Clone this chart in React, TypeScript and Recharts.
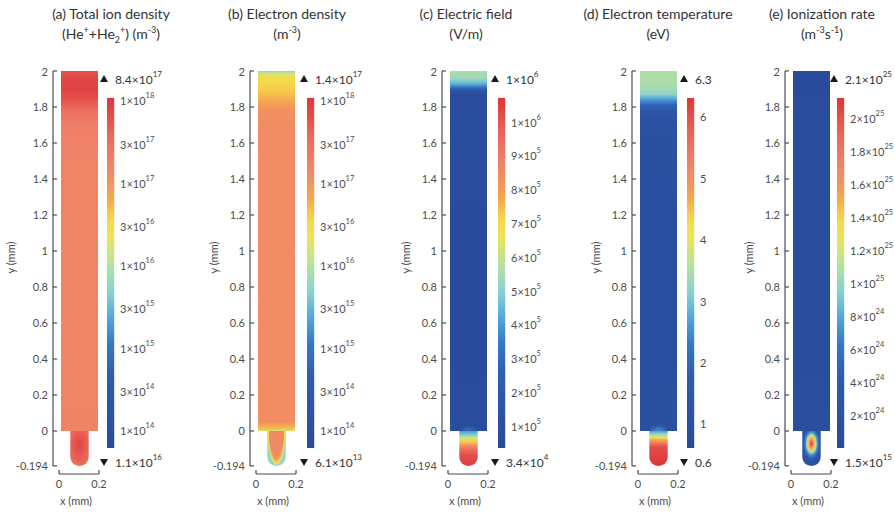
import React from 'react';
import { ComposedChart, Area, Bar, XAxis, YAxis, ReferenceLine } from 'recharts';

const FONT = 'Lato, "Open Sans", "DejaVu Sans", sans-serif';
const INK = '#4d4d4d';
const W = 895;
const H = 513;

// Channel cross-section in mm: the gap spans x 0.01–0.195 between y = 0 and 2,
// the capillary below it is a round-ended tube reaching y = -0.194.
const outlineX = [0.01, 0.0565, 0.0585, 0.0625, 0.0695, 0.0795, 0.0905, 0.1025, 0.1145, 0.1255, 0.1355, 0.1425, 0.1465, 0.1485, 0.195];
const tubeBottom: (number | null)[] = [null, -0.143, -0.158, -0.168, -0.179, -0.187, -0.192, -0.194, -0.192, -0.187, -0.179, -0.168, -0.158, -0.143, null];
const yTicks = [-0.194, 0, 0.2, 0.4, 0.6, 0.8, 1, 1.2, 1.4, 1.6, 1.8, 2];
const xTicks = [0, 0.2];
const xDomain = [-0.03, 0.2];
const yDomain = [-0.239, 2];

// rainbow colour table (normalised position -> colour)
const cmapPos = [0, 0.2, 0.3, 0.37, 0.44, 0.52, 0.6, 0.65, 0.71, 0.76, 0.82, 0.9, 1];
const cmapHex = ['#2a4a9a', '#2e5caf', '#3679c8', '#4fa6de', '#84cfd2', '#b6e0a2', '#e9e55a', '#f5d84a', '#f5aa4c', '#f39260', '#ef8068', '#ea6556', '#dc363c'];

// (a) total ion density along the gap, and inside the capillary (radial profile)
const ionY = [2.0, 1.96, 1.9, 1.84, 1.78, 1.7, 1.5, 1.0, 0.5, 0.2, 0.05, 0];
const ionV = [5.5e17, 7.5e17, 8.4e17, 6e17, 3e17, 1.9e17, 1.6e17, 1.5e17, 1.5e17, 1.55e17, 1.7e17, 1.5e17];
const ionTubeOff = [0, 0.5, 1];
const ionTubeV = [8e17, 5e17, 2.5e17];

// (b) electron density
const eleY = [2.0, 1.985, 1.97, 1.93, 1.88, 1.83, 1.78, 1.7, 1.0, 0.3, 0.05, 0.015, 0];
const eleV = [6e15, 1.5e16, 3e16, 3.5e16, 4.5e16, 7e16, 1.05e17, 1.25e17, 1.3e17, 1.3e17, 1.2e17, 5e16, 1.5e16];
const eleTubeOff = [0, 0.7, 0.82, 0.9, 0.96, 1];
const eleTubeV = [1.4e17, 1.3e17, 8e16, 3e16, 1.2e16, 6e15];

// (c) electric field
const fieldY = [2.0, 1.96, 1.935, 1.92, 1.905, 1.89, 1.87, 1.5, 1.0, 0.5, 0.1, 0];
const fieldV = [5.6e5, 5.3e5, 4.6e5, 3.9e5, 2.8e5, 1.4e5, 6e4, 5.5e4, 5e4, 5e4, 5.5e4, 6e4];
const fieldTubeOff = [0, 0.1, 0.2, 0.3, 0.42, 0.55, 0.7, 1];
const fieldTubeV = [4e5, 4.8e5, 6.2e5, 7.2e5, 8.4e5, 9.5e5, 1.02e6, 1.05e6];

// (d) electron temperature
const tempY = [2.0, 1.95, 1.9, 1.87, 1.85, 1.83, 1.81, 1.78, 1.74, 1.6, 1.0, 0.5, 0.1, 0];
const tempV = [3.5, 3.5, 3.4, 3.2, 2.8, 2.4, 1.9, 1.4, 1.1, 0.95, 0.9, 0.9, 0.95, 1.0];
const tempTubeOff = [0, 0.08, 0.18, 0.26, 0.35, 0.45, 1];
const tempTubeV = [2.6, 3.2, 4.0, 4.7, 5.4, 6.0, 6.3];

// (e) ionization rate
const rateY = [2.0, 1.9, 1.8, 1.5, 1.0, 0.5, 0.1, 0];
const rateV = [3e23, 3e23, 6e23, 8e23, 8e23, 8e23, 9e23, 1.2e24];
const rateTubeOff = [0, 0.15, 0.3, 0.45, 0.6, 0.8, 1];
const rateTubeV = [2.1e25, 1.8e25, 1.45e25, 1.1e25, 7e24, 3e24, 1.2e24];

// colour-bar ticks, ranges and [max, min] markers
const densityTicks = [1e14, 3e14, 1e15, 3e15, 1e16, 3e16, 1e17, 3e17, 1e18];
const fieldTicks = [1e5, 2e5, 3e5, 4e5, 5e5, 6e5, 7e5, 8e5, 9e5, 1e6];
const tempTicks = [1, 2, 3, 4, 5, 6];
const rateTicks = [2e24, 4e24, 6e24, 8e24, 1e25, 1.2e25, 1.4e25, 1.6e25, 1.8e25, 2e25];
const densityRange = [6.1e13, 1.07e18];
const fieldRange = [3.4e4, 1.07e6];
const tempRange = [0.6, 6.3];
const rateRange = [1.5e15, 2.12e25];
const ionExtremes = [8.4e17, 1.1e16];
const eleExtremes = [1.4e17, 6.1e13];
const fieldExtremes = [1e6, 3.4e4];
const tempExtremes = [6.3, 0.6];
const rateExtremes = [2.1e25, 1.5e15];

const hexRgb = (h: string) => [1, 3, 5].map((i) => parseInt(h.slice(i, i + 2), 16));

function cmap(t: number) {
  const u = Math.min(1, Math.max(0, t));
  let i = 0;
  while (i < cmapPos.length - 2 && u > cmapPos[i + 1]) i++;
  const f = (u - cmapPos[i]) / (cmapPos[i + 1] - cmapPos[i]);
  const a = hexRgb(cmapHex[i]);
  const b = hexRgb(cmapHex[i + 1]);
  return `rgb(${a.map((c, k) => Math.round(c + (b[k] - c) * f)).join(',')})`;
}

interface TubeFill {
  radial: boolean;
  cx: number;
  cy: number;
  r: number;
  transform?: string;
  off: number[];
  val: number[];
}

interface PanelCfg {
  key: string;
  axisX: number;
  cbLeft: number;
  titleX: number;
  yLabelX: number;
  title: string;
  unit: React.ReactNode;
  log: boolean;
  sci: boolean;
  range: number[];
  cbTicks: number[];
  extremes: number[];
  profY: number[];
  profV: number[];
  tube: TubeFill;
  glow?: number;
}

const sup = { fontSize: 9, lineHeight: 0 } as const;

const panels: PanelCfg[] = [
  {
    key: 'a', axisX: 53, cbLeft: 107, titleX: 111, yLabelX: 10,
    title: '(a) Total ion density',
    unit: <>(He<sup style={sup}>+</sup>+He<sub style={sup}>2</sub><sup style={sup}>+</sup>) (m<sup style={sup}>-3</sup>)</>,
    log: true, sci: true, range: densityRange, cbTicks: densityTicks, extremes: ionExtremes,
    profY: ionY, profV: ionV,
    tube: { radial: true, cx: 0.5, cy: 0.4, r: 0.7, off: ionTubeOff, val: ionTubeV },
  },
  {
    key: 'b', axisX: 250, cbLeft: 307, titleX: 287, yLabelX: 213,
    title: '(b) Electron density',
    unit: <>(m<sup style={sup}>-3</sup>)</>,
    log: true, sci: true, range: densityRange, cbTicks: densityTicks, extremes: eleExtremes,
    profY: eleY, profV: eleV,
    // half-ellipse centred on the tube mouth, so the rim follows the wall
    tube: { radial: true, cx: 0, cy: 0, r: 1, transform: 'translate(0.5 0) scale(0.5 1)', off: eleTubeOff, val: eleTubeV },
  },
  {
    key: 'c', axisX: 442, cbLeft: 498, titleX: 466, yLabelX: 405,
    title: '(c) Electric field',
    unit: <>(V/m)</>,
    log: false, sci: true, range: fieldRange, cbTicks: fieldTicks, extremes: fieldExtremes,
    profY: fieldY, profV: fieldV,
    tube: { radial: false, cx: 0, cy: 0, r: 0, off: fieldTubeOff, val: fieldTubeV },
    glow: 3.2e5,
  },
  {
    key: 'd', axisX: 632, cbLeft: 687, titleX: 658, yLabelX: 595,
    title: '(d) Electron temperature',
    unit: <>(eV)</>,
    log: false, sci: false, range: tempRange, cbTicks: tempTicks, extremes: tempExtremes,
    profY: tempY, profV: tempV,
    tube: { radial: false, cx: 0, cy: 0, r: 0, off: tempTubeOff, val: tempTubeV },
    glow: 2.6,
  },
  {
    key: 'e', axisX: 785, cbLeft: 837, titleX: 822, yLabelX: 748,
    title: '(e) Ionization rate',
    unit: <>(m<sup style={sup}>-3</sup>s<sup style={sup}>-1</sup>)</>,
    log: false, sci: true, range: rateRange, cbTicks: rateTicks, extremes: rateExtremes,
    profY: rateY, profV: rateV,
    tube: { radial: true, cx: 0.5, cy: 0.36, r: 0.55, off: rateTubeOff, val: rateTubeV },
  },
];

const toScale = (p: PanelCfg, v: number) => (p.log ? Math.log10(v) : v);

const normFor = (p: PanelCfg) => {
  const lo = toScale(p, p.range[0]);
  const hi = toScale(p, p.range[1]);
  return (v: number) => (toScale(p, v) - lo) / (hi - lo);
};

const valueSpans = (v: number, sci: boolean, supSize: number) => {
  if (!sci) return <tspan>{String(v)}</tspan>;
  const e = Math.floor(Math.log10(v) + 1e-9);
  const m = Math.round((v / 10 ** e) * 10) / 10;
  return (
    <>
      <tspan>{`${m}×10`}</tspan>
      <tspan dy={-5} fontSize={supSize}>{e}</tspan>
    </>
  );
};

const YTick = (props: any) => {
  const { x, y, payload } = props;
  return (
    <g>
      <line x1={x} y1={y} x2={x + 4} y2={y} stroke={INK} strokeWidth={1.2} />
      <text x={x - 5} y={y} textAnchor="end" dominantBaseline="central" fontSize={11} fill={INK} fontFamily={FONT}>
        {String(payload.value)}
      </text>
    </g>
  );
};

const XTick = (props: any) => {
  const { x, y, payload } = props;
  return (
    <g>
      <line x1={x} y1={y} x2={x} y2={y - 4} stroke={INK} strokeWidth={1.2} />
      <text x={x} y={y + 9} textAnchor="middle" dominantBaseline="central" fontSize={11} fill={INK} fontFamily={FONT}>
        {String(payload.value)}
      </text>
    </g>
  );
};

const yLabel = (dx: number) => (props: any) => {
  const vb = props.viewBox;
  if (!vb) return null;
  const cx = vb.x + dx;
  const cy = vb.y + vb.height / 2 - 15;
  return (
    <text x={cx} y={cy} transform={`rotate(-90 ${cx} ${cy})`} textAnchor="middle" dominantBaseline="central"
      fontSize={11} fill={INK} fontFamily={FONT}>
      y (mm)
    </text>
  );
};

function FieldPlot({ p }: { p: PanelCfg }) {
  const norm = normFor(p);
  const color = (v: number) => cmap(norm(v));
  const rows = outlineX.map((x, i) => {
    const b = tubeBottom[i];
    return { x, top: 2, tube: b === null ? null : [b, 0], glow: b === null ? null : [0, 0.06] };
  });
  const left = p.axisX - 50;
  const t = p.tube;
  const tubeStops = t.off.map((o, i) => <stop key={i} offset={o} stopColor={color(t.val[i])} />);
  return (
    <div style={{ position: 'absolute', left, top: 0 }}>
      <ComposedChart width={112} height={H} data={rows} margin={{ top: 71, right: 16, bottom: 0, left: 0 }}>
        <defs>
          <linearGradient id={`chan-${p.key}`} x1="0" y1="0" x2="0" y2="1">
            {p.profY.map((y, i) => (
              <stop key={i} offset={(2 - y) / 2} stopColor={color(p.profV[i])} />
            ))}
          </linearGradient>
          {t.radial ? (
            <radialGradient id={`tube-${p.key}`} cx={t.cx} cy={t.cy} r={t.r} gradientTransform={t.transform}>{tubeStops}</radialGradient>
          ) : (
            <linearGradient id={`tube-${p.key}`} x1="0" y1="0" x2="0" y2="1">{tubeStops}</linearGradient>
          )}
          {p.glow !== undefined && (
            <radialGradient id={`glow-${p.key}`} cx={0.5} cy={1} r={0.55}>
              <stop offset={0} stopColor={color(p.glow)} stopOpacity={0.9} />
              <stop offset={1} stopColor={color(p.glow)} stopOpacity={0} />
            </radialGradient>
          )}
        </defs>
        <XAxis
          type="number" dataKey="x" domain={xDomain} ticks={xTicks} allowDataOverflow interval={0}
          height={39} axisLine={false} tickLine={false} tickSize={0} tickMargin={0} tick={XTick}
          label={{ value: 'x (mm)', position: 'insideBottom', offset: 8, fill: INK, fontSize: 11, fontFamily: FONT }}
        />
        <YAxis
          type="number" domain={yDomain} ticks={yTicks} allowDataOverflow interval={0}
          width={50} axisLine={false} tickLine={false} tickSize={0} tickMargin={0} tick={YTick}
          label={yLabel(p.yLabelX - left)}
        />
        <ReferenceLine segment={[{ x: xDomain[0], y: -0.194 }, { x: xDomain[0], y: 2 }]} stroke={INK} strokeWidth={1.2} ifOverflow="visible" />
        <ReferenceLine segment={[{ x: 0, y: yDomain[0] }, { x: 0.2, y: yDomain[0] }]} stroke={INK} strokeWidth={1.2} ifOverflow="visible" />
        <Area dataKey="top" baseValue={0} type="linear" stroke="none" fill={`url(#chan-${p.key})`} fillOpacity={1} isAnimationActive={false} />
        <Area dataKey="tube" type="linear" stroke="none" fill={`url(#tube-${p.key})`} fillOpacity={1} isAnimationActive={false} />
        {p.glow !== undefined && (
          <Area dataKey="glow" type="linear" stroke="none" fill={`url(#glow-${p.key})`} fillOpacity={1} isAnimationActive={false} />
        )}
      </ComposedChart>
    </div>
  );
}

function ColorBar({ p }: { p: PanelCfg }) {
  const lo = toScale(p, p.range[0]);
  const hi = toScale(p, p.range[1]);
  const CbTick = (props: any) => {
    const { x, y, payload } = props;
    const v = p.log ? 10 ** payload.value : payload.value;
    return (
      <text x={x + 5} y={y} dominantBaseline="central" fontSize={11} fill={INK} fontFamily={FONT}>
        {valueSpans(v, p.sci, 7.5)}
      </text>
    );
  };
  return (
    <div style={{ position: 'absolute', left: p.cbLeft, top: 0 }}>
      <ComposedChart width={80} height={H} data={[{ k: 'cb', span: [lo, hi] }]} margin={{ top: 98, right: 0, bottom: 65, left: 0 }} barCategoryGap={0}>
        <defs>
          <linearGradient id={`cb-${p.key}`} x1="0" y1="0" x2="0" y2="1">
            {cmapPos
              .map((pos, i) => <stop key={i} offset={1 - pos} stopColor={cmapHex[i]} />)
              .reverse()}
          </linearGradient>
        </defs>
        <XAxis dataKey="k" hide />
        <YAxis
          type="number" orientation="right" domain={[lo, hi]} ticks={p.cbTicks.map((v) => toScale(p, v))}
          allowDataOverflow interval={0} width={72} axisLine={false} tickLine={false} tickSize={0} tickMargin={0} tick={CbTick}
        />
        <Bar dataKey="span" barSize={8} fill={`url(#cb-${p.key})`} isAnimationActive={false} />
      </ComposedChart>
    </div>
  );
}

export default function App() {
  return (
    <div style={{ position: 'absolute', left: 0, top: 0, width: W, height: H, background: '#fff', overflow: 'hidden' }}>
      {panels.map((p) => (
        <div
          key={`t-${p.key}`}
          style={{
            position: 'absolute', left: p.titleX - 100, top: 4, width: 200, textAlign: 'center',
            fontFamily: FONT, fontSize: 14, lineHeight: '20px', color: '#333', whiteSpace: 'nowrap',
          }}
        >
          <div>{p.title}</div>
          <div>{p.unit}</div>
        </div>
      ))}
      {panels.map((p) => (
        <FieldPlot key={`f-${p.key}`} p={p} />
      ))}
      {panels.map((p) => (
        <ColorBar key={`c-${p.key}`} p={p} />
      ))}
      <svg width={W} height={H} style={{ position: 'absolute', left: 0, top: 0, pointerEvents: 'none' }}>
        {panels.map((p) => (
          <g key={`m-${p.key}`} fontFamily={FONT} fontSize={12} fill="#333">
            <path d={`M${p.cbLeft - 7},82 L${p.cbLeft + 1},82 L${p.cbLeft - 3},75 Z`} fill="#1a1a1a" />
            <text x={p.cbLeft + 8} y={79} dominantBaseline="central">{valueSpans(p.extremes[0], p.sci, 8)}</text>
            <path d={`M${p.cbLeft - 7},459 L${p.cbLeft + 1},459 L${p.cbLeft - 3},466 Z`} fill="#1a1a1a" />
            <text x={p.cbLeft + 8} y={462} dominantBaseline="central">{valueSpans(p.extremes[1], p.sci, 8)}</text>
          </g>
        ))}
      </svg>
    </div>
  );
}
